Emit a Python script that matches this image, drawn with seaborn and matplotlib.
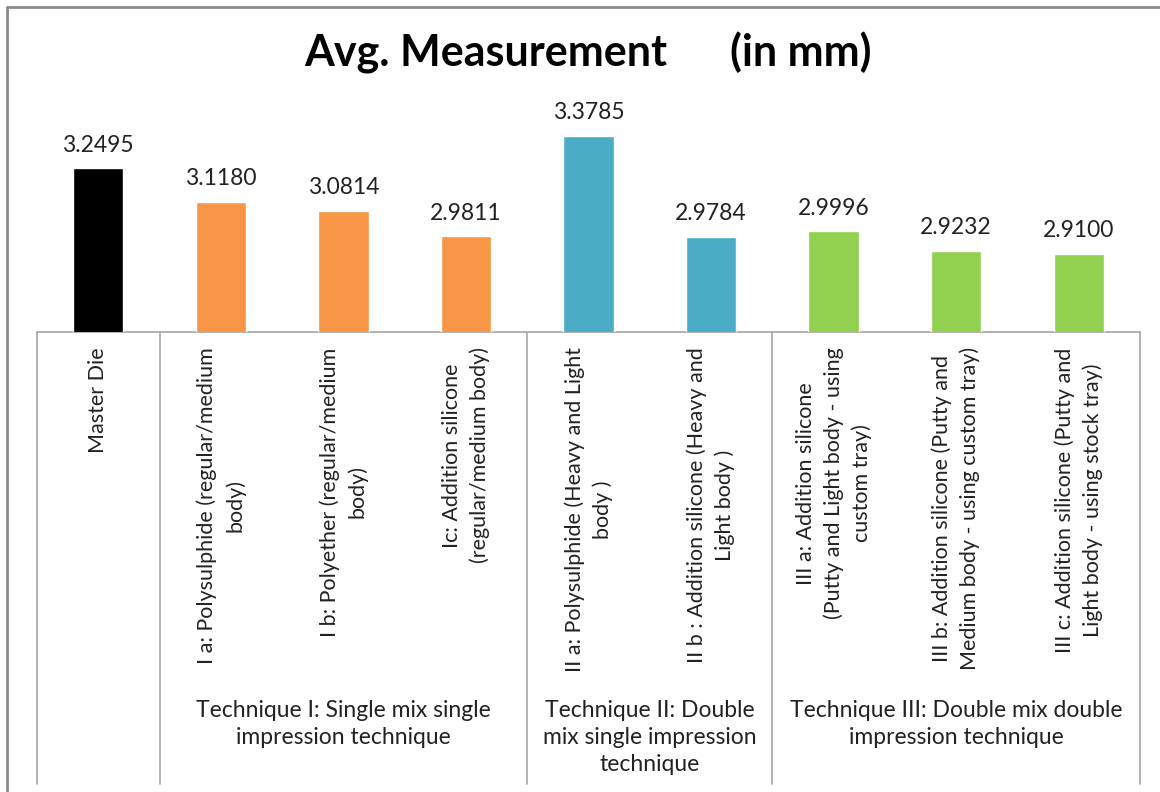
import numpy as np
import pandas as pd
import matplotlib
matplotlib.use("Agg")
import matplotlib.pyplot as plt
import matplotlib.transforms as mtransforms
from matplotlib.lines import Line2D
import seaborn as sns

# === Data ===
categories = [
    "Master Die",
    "I a: Polysulphide (regular/medium\nbody)",
    "I b: Polyether (regular/medium\nbody)",
    "Ic: Addition silicone\n(regular/medium body)",
    "II a: Polysulphide (Heavy and Light\nbody )",
    "II b : Addition silicone (Heavy and\nLight body )",
    "III a: Addition silicone\n(Putty and Light body - using\ncustom tray)",
    "III b: Addition silicone (Putty and\nMedium body - using custom tray)",
    "III c: Addition silicone (Putty and\nLight body - using stock tray)",
]
values = [3.2495, 3.1180, 3.0814, 2.9811, 3.3785, 2.9784, 2.9996, 2.9232, 2.9100]
groups = ["Master", "T1", "T1", "T1", "T2", "T2", "T3", "T3", "T3"]
group_titles = {
    "T1": "Technique I: Single mix single\nimpression technique",
    "T2": "Technique II: Double\nmix single impression\ntechnique",
    "T3": "Technique III: Double mix double\nimpression technique",
}
group_colors = {"Master": "#000000", "T1": "#F79646", "T2": "#4BACC6", "T3": "#92D050"}

df = pd.DataFrame({"cat": categories, "value": values, "group": groups})

sns.set_style("white")
plt.rcParams["font.family"] = ["Lato", "DejaVu Sans"]

W, H = 1160, 792
fig = plt.figure(figsize=(W / 100, H / 100), dpi=100)

# axes: baseline at y=332px, 2.6..3.5 spans ~227px
ymin, ymax = 2.6, 3.5
px_per_unit = 251.9
base_px = 332
top_px = base_px - (ymax - ymin) * px_per_unit
left_px, right_px = 37, 1140
ax = fig.add_axes([left_px / W, 1 - base_px / H, (right_px - left_px) / W, (base_px - top_px) / H])

sns.barplot(data=df, x="cat", y="value", hue="group", palette=group_colors,
            width=0.41, legend=False, saturation=1, ax=ax, zorder=3)

ax.set_ylim(ymin, ymax)
ax.set_xlim(-0.5, len(categories) - 0.5)
ax.set_xlabel("")
ax.set_ylabel("")
ax.set_yticks([])
for s in ["top", "left", "right"]:
    ax.spines[s].set_visible(False)
ax.spines["bottom"].set_color("#A6A6A6")
ax.spines["bottom"].set_linewidth(1.2)

ax.set_xticks(range(len(categories)))
ax.set_xticklabels(categories, rotation=90, va="top", ha="center",
                   multialignment="center", fontsize=15.5, color="#222222",
                   linespacing=1.45)
ax.tick_params(axis="x", length=0, pad=11)

# value labels
for i, v in enumerate(values):
    ax.annotate(f"{v:.4f}", (i, v), xytext=(0, 9), textcoords="offset points",
                ha="center", va="bottom", fontsize=16.5, color="#222222")

# group dividers and group names
trans = mtransforms.blended_transform_factory(ax.transData, fig.transFigure)
bounds = [-0.5, 0.5, 3.5, 5.5, 8.5]
for b in bounds:
    ax.add_line(Line2D([b, b], [1 - base_px / H, 1 - 784 / H], transform=trans,
                       color="#A6A6A6", lw=1.2, clip_on=False))
for g, title in group_titles.items():
    idx = [i for i, gg in enumerate(groups) if gg == g]
    ax.text(np.mean(idx), 1 - 700 / H, title, transform=trans, ha="center", va="top",
            fontsize=16.5, color="#222222", linespacing=1.35)

# title
fig.text(588 / W, 1 - 53 / H, "Avg. Measurement      (in mm)", ha="center", va="center",
         fontsize=31, fontweight="bold", color="#000000")

# outer chart frame
fig.add_artist(Line2D([7 / W, 1], [1 - 7 / H, 1 - 7 / H], transform=fig.transFigure, color="#8C8C8C", lw=2))
fig.add_artist(Line2D([7 / W, 7 / W], [0, 1 - 7 / H], transform=fig.transFigure, color="#8C8C8C", lw=2))

fig.savefig("out.png", dpi=100)
